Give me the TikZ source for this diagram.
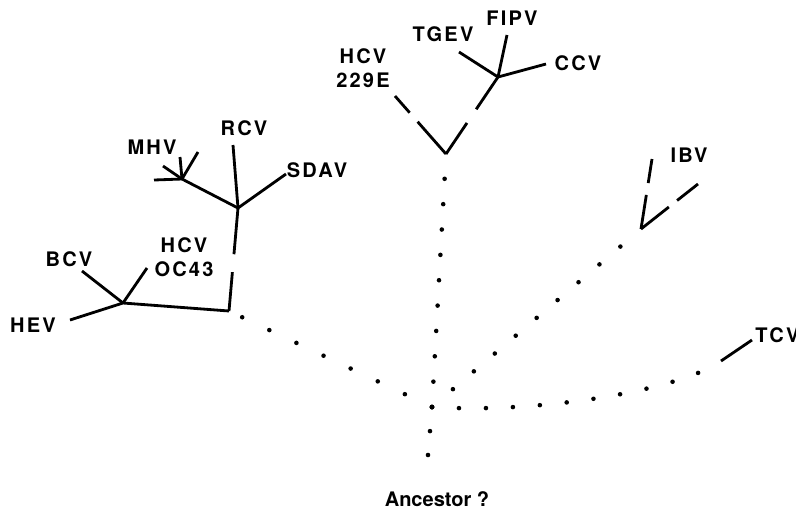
\documentclass[tikz,border=0pt]{standalone}
\usepackage{fontspec}
\setmainfont{TeX Gyre Heros}
\newfontfamily\spacedfont[LetterSpace=11]{TeX Gyre Heros}
\begin{document}
\begin{tikzpicture}[x=0.02cm, y=-0.02cm, font=\fontsize{11.4}{13.5}\selectfont\bfseries,
		branch/.style={line width=1.6pt},
		dots/.style={line width=2.6pt, line cap=round, dash pattern=on 0pt off #1},
		dots/.default=0.5cm,
		lbl/.style={inner sep=0pt, align=center, font=\fontsize{11.4}{13.5}\spacedfont\bfseries}]
		\useasboundingbox (0,0) rectangle (796,515);
		\coordinate (root) at (428,455);
		\coordinate (j) at (432,407);
		\coordinate (v229) at (446,154);
		\coordinate (vibv) at (641,229);
		\coordinate (tcvA) at (721,361);
		\coordinate (tcvB) at (752,340);
		\coordinate (k) at (229,311);
		\coordinate (m1) at (238,208);
		\coordinate (m2) at (123,303);
		\coordinate (mhv) at (182,179);
		\coordinate (c) at (498,77);
		\coordinate (e229) at (395,96);
		\coordinate (etgev) at (459,52);
		\coordinate (efipv) at (507,35);
		\coordinate (eccv) at (546,64);
		\coordinate (eibvA) at (652,159);
		\coordinate (eibvB) at (698,184);
		\coordinate (ercv) at (233,145);
		\coordinate (esdav) at (286,174);
		\coordinate (ebcv) at (82,271);
		\coordinate (eoc) at (147,268);
		\coordinate (ehev) at (70,320);
		\node[inner sep=0pt] (anc) at (437,499){Ancestor ?};
		\node[lbl] (hcv229) at (363,68){HCV\\229E};
		\node[lbl] (tgev) at (443,34){TGEV};
		\node[lbl] (fipv) at (512,18){FIPV};
		\node[lbl] (ccv) at (578,63){CCV};
		\node[lbl] (ibv) at (689,155){IBV};
		\node[lbl, anchor=west] (tcv) at (755,335){TCV};
		\node[lbl] (mhvl) at (152,147){MHV};
		\node[lbl] (rcv) at (244,128){RCV};
		\node[lbl] (sdav) at (317,170){SDAV};
		\node[lbl] (bcv) at (69,259){BCV};
		\node[lbl] (hcvoc) at (184,257){HCV\\OC43};
		\node[lbl] (hev) at (33,325){HEV};
		\draw[dots=0.48cm] (root) -- (j);
		\draw[dots=0.508cm] (j) -- (v229);
		\draw[dots=0.6cm] (j) -- (k);
		\draw[dots=0.55cm] (j) -- (vibv);
		\draw[dots=0.54cm] (j) .. controls (540,414) and (680,390) .. (tcvA);
		\draw[branch] (tcvA) -- (tcvB);
		\draw[branch, dash pattern=on 0.86cm off 0.24cm on 2cm] (v229) -- (e229);
		\draw[branch, dash pattern=on 0.75cm off 0.33cm on 2cm] (v229) -- (c);
		\draw[branch] (c) -- (etgev);
		\draw[branch] (c) -- (efipv);
		\draw[branch] (c) -- (eccv);
		\draw[branch, dash pattern=on 0.69cm off 0.24cm on 2cm] (vibv) -- (eibvA);
		\draw[branch, dash pattern=on 0.71cm off 0.21cm on 2cm] (vibv) -- (eibvB);
		\draw[branch, dash pattern=on 0.78cm off 0.36cm on 2cm] (k) -- (m1);
		\draw[branch] (k) -- (m2);
		\draw[branch] (m2) -- (ebcv);
		\draw[branch] (m2) -- (eoc);
		\draw[branch] (m2) -- (ehev);
		\draw[branch] (m1) -- (ercv);
		\draw[branch] (m1) -- (esdav);
		\draw[branch] (m1) -- (mhv);
		\draw[branch] (mhv) -- (154,180);
		\draw[branch] (mhv) -- (163,166);
		\draw[branch] (mhv) -- (180,157);
		\draw[branch] (mhv) -- (198,152);
\end{tikzpicture}
\end{document}
